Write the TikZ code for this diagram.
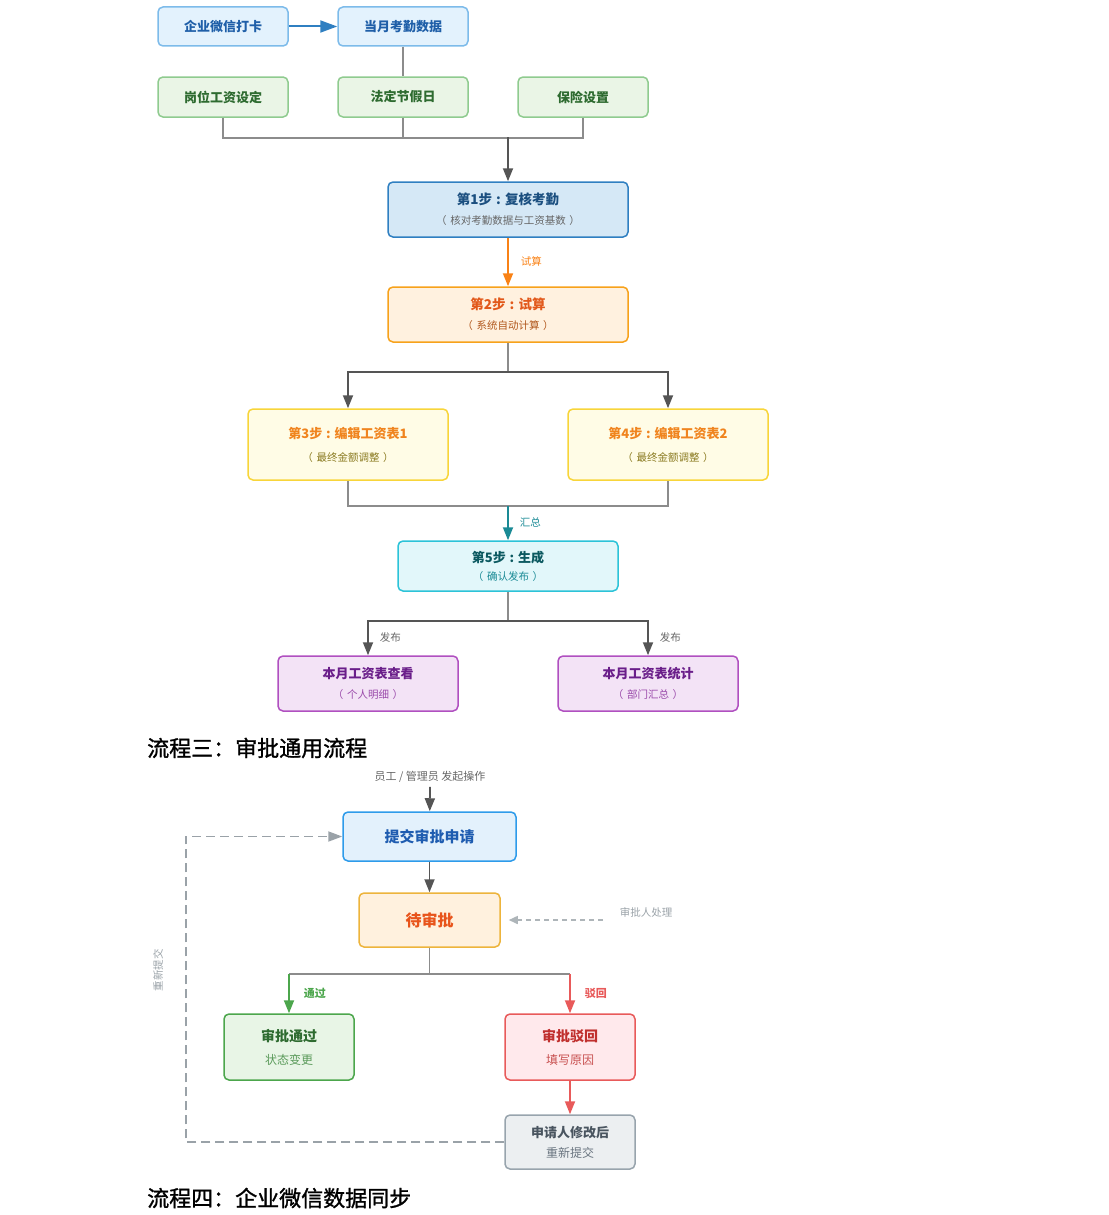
\documentclass[tikz,border=0pt]{standalone}
\usepackage{fontspec}
\setmainfont{Noto Sans CJK SC}
\newfontfamily\headfont{Noto Sans CJK SC}[FakeBold=1.2]
\usepackage{xcolor}
\usetikzlibrary{positioning}
\usetikzlibrary{arrows.meta}

\definecolor{topfill}{HTML}{E3F2FD}
\definecolor{topdraw}{HTML}{7DBBEA}
\definecolor{toptext}{HTML}{1F5FA8}
\definecolor{grnfill}{HTML}{EAF5E6}
\definecolor{grndraw}{HTML}{8FCB8F}
\definecolor{grntext}{HTML}{2E6B30}
\definecolor{sonefill}{HTML}{D5E8F6}
\definecolor{sonedraw}{HTML}{2F7FC1}
\definecolor{sonetext}{HTML}{1B4F80}
\definecolor{stwofill}{HTML}{FFF1DF}
\definecolor{stwodraw}{HTML}{F7A21B}
\definecolor{stwotext}{HTML}{E2591B}
\definecolor{stwosub}{HTML}{B0561B}
\definecolor{sedfill}{HTML}{FFFCE6}
\definecolor{seddraw}{HTML}{F8D53A}
\definecolor{sedtext}{HTML}{F0841E}
\definecolor{sedsub}{HTML}{8A7A20}
\definecolor{sfivefill}{HTML}{E2F7FA}
\definecolor{sfivedraw}{HTML}{2CC3D8}
\definecolor{sfivetext}{HTML}{0B5960}
\definecolor{sfivesub}{HTML}{1A8A95}
\definecolor{purfill}{HTML}{F3E3F6}
\definecolor{purdraw}{HTML}{B050C0}
\definecolor{purtext}{HTML}{6A1E8A}
\definecolor{pursub}{HTML}{9A4AAA}
\definecolor{subfill}{HTML}{E3F1FC}
\definecolor{subdraw}{HTML}{2E9BEA}
\definecolor{subtext}{HTML}{1E5CB0}
\definecolor{waitfill}{HTML}{FFF1DE}
\definecolor{waitdraw}{HTML}{EDB43C}
\definecolor{waittext}{HTML}{E8541B}
\definecolor{okfill}{HTML}{E8F5E6}
\definecolor{okdraw}{HTML}{4CA64C}
\definecolor{oksub}{HTML}{5A9A5A}
\definecolor{nofill}{HTML}{FFE9EC}
\definecolor{nodraw}{HTML}{E85A5A}
\definecolor{notext}{HTML}{C0302E}
\definecolor{nosub}{HTML}{C85050}
\definecolor{redofill}{HTML}{ECEFF1}
\definecolor{redodraw}{HTML}{98A4AD}
\definecolor{redotext}{HTML}{4A5560}
\definecolor{redosub}{HTML}{6A7580}
\definecolor{busgray}{HTML}{8C8C8C}
\definecolor{arrgray}{HTML}{555555}
\definecolor{loopgray}{HTML}{9AA2A8}
\definecolor{lblgray}{HTML}{666666}

\newcommand{\subline}[2]{{\fontsize{10.5}{12}\selectfont\mdseries\color{#1}（\hspace{0.35em}#2\hspace{0.35em}）}}
\newcommand{\stepcolon}{\hspace{0.3em}:\hspace{0.3em}}

\begin{document}
\begin{tikzpicture}[x=1pt,y=-1pt,
  box/.style={draw, rounded corners=5pt, line width=1.5pt, align=center, inner sep=0pt,
    font=\fontsize{13}{16}\selectfont\bfseries},
  topbox/.style={box, fill=topfill, draw=topdraw, text=toptext, minimum width=130pt, minimum height=39pt},
  setbox/.style={box, fill=grnfill, draw=grndraw, text=grntext, minimum width=130pt, minimum height=40pt},
  bus/.style={draw=busgray, line width=1.8pt},
  tip/.style={-{Triangle[length=13pt,width=10pt]}},
  arrow/.style={draw=arrgray, line width=1.8pt, tip},
  lbl/.style={font=\fontsize{10.5}{12}\selectfont, inner sep=0pt}]
\useasboundingbox (0,0) rectangle (1108,1215);

% flow 2: payroll
\node[topbox] (daka) at (223,26.5) {企业微信打卡};
\node[topbox] (kaoqin) at (403,26.5) {当月考勤数据};
\node[setbox] (gangwei) at (223,97) {岗位工资设定};
\node[setbox] (jiari) at (403,97) {法定节假日};
\node[setbox] (baoxian) at (583,97) {保险设置};
\node[box, fill=sonefill, draw=sonedraw, text=sonetext, minimum width=240pt, minimum height=55pt,
  font=\fontsize{13.5}{16}\selectfont\bfseries] (step1) at (508,209.5)
  {第1步\stepcolon 复核考勤\\[4pt]\subline{lblgray}{核对考勤数据与工资基数}};
\node[box, fill=stwofill, draw=stwodraw, text=stwotext, minimum width=240pt, minimum height=55pt,
  font=\fontsize{13.5}{16}\selectfont\bfseries] (step2) at (508,314.5)
  {第2步\stepcolon 试算\\[4pt]\subline{stwosub}{系统自动计算}};
\node[box, fill=sedfill, draw=seddraw, text=sedtext, minimum width=200pt, minimum height=71pt] (step3) at (348,444.5)
  {第3步\stepcolon 编辑工资表1\\[7pt]\subline{sedsub}{最终金额调整}};
\node[box, fill=sedfill, draw=seddraw, text=sedtext, minimum width=200pt, minimum height=71pt] (step4) at (668,444.5)
  {第4步\stepcolon 编辑工资表2\\[7pt]\subline{sedsub}{最终金额调整}};
\node[box, fill=sfivefill, draw=sfivedraw, text=sfivetext, minimum width=220pt, minimum height=50pt] (step5) at (508,566)
  {第5步\stepcolon 生成\\[2pt]\subline{sfivesub}{确认发布}};
\node[box, fill=purfill, draw=purdraw, text=purtext, minimum width=180pt, minimum height=55pt] (chakan) at (368,683.5)
  {本月工资表查看\\[4pt]\subline{pursub}{个人明细}};
\node[box, fill=purfill, draw=purdraw, text=purtext, minimum width=180pt, minimum height=55pt] (tongji) at (648,683.5)
  {本月工资表统计\\[4pt]\subline{pursub}{部门汇总}};

\coordinate (hubA) at (508,137);
\coordinate (hubB) at (508,372);
\coordinate (hubC) at (508,506);
\coordinate (hubD) at (508,621);

\draw[draw=sonedraw, line width=2pt, -{Triangle[length=17pt,width=12pt]}] (daka) -- (kaoqin);
\draw[bus] (kaoqin) -- (jiari);
\draw[bus] (gangwei.south) -- ++(0,20) -| (baoxian.south);
\draw[bus] (jiari.south) -- ++(0,20);
\draw[arrow] (hubA) -- (step1);
\draw[draw=stwodraw!80!red, line width=1.8pt, tip] (step1) --
  node[lbl, right=12pt, yshift=1pt, text=stwodraw!80!red] {试算} (step2);
\draw[bus] (step2) -- (hubB);
\draw[arrow] (hubB) -| (step3.north);
\draw[arrow] (hubB) -| (step4.north);
\draw[bus] (step3.south) |- (hubC) -| (step4.south);
\draw[draw=sfivesub, line width=1.8pt, tip] (hubC) --
  node[lbl, right=11pt, yshift=1pt, text=sfivesub] {汇总} (step5);
\draw[bus] (step5) -- (hubD);
\draw[arrow] (hubD) -| node[lbl, pos=0.75, right=11pt, yshift=1pt, text=lblgray] {发布} (chakan.north);
\draw[arrow] (hubD) -| node[lbl, pos=0.75, right=11pt, yshift=1pt, text=lblgray] {发布} (tongji.north);

% flow 3: approval
\node[anchor=west, inner sep=0pt, font=\fontsize{22}{22}\selectfont\headfont] (title3) at (147,748) {流程三：审批通用流程};
\node[lbl, font=\fontsize{11}{12}\selectfont, text=lblgray] (faqi) at (430,777) {员工 / 管理员 发起操作};
\node[box, fill=subfill, draw=subdraw, text=subtext, minimum width=173pt, minimum height=49pt,
  font=\fontsize{15}{17}\selectfont\bfseries] (tijiao) at (429.5,836.5) {提交审批申请};
\node[box, fill=waitfill, draw=waitdraw, text=waittext, minimum width=141pt, minimum height=54pt,
  font=\fontsize{16}{18}\selectfont\bfseries] (daishen) at (429.5,920) {待审批};
\node[lbl, text=loopgray] (chuli) at (646,912) {审批人处理};
\node[box, fill=okfill, draw=okdraw, text=grntext, minimum width=130pt, minimum height=66pt,
  font=\fontsize{14}{17}\selectfont\bfseries] (tongguo) at (289,1047)
  {审批通过\\[6pt]{\fontsize{12}{14}\selectfont\mdseries\color{oksub}状态变更}};
\node[box, fill=nofill, draw=nodraw, text=notext, minimum width=130pt, minimum height=66pt,
  font=\fontsize{14}{17}\selectfont\bfseries] (bohui) at (570,1047)
  {审批驳回\\[6pt]{\fontsize{12}{14}\selectfont\mdseries\color{nosub}填写原因}};
\node[box, fill=redofill, draw=redodraw, text=redotext, minimum width=130pt, minimum height=54pt,
  font=\fontsize{13}{16}\selectfont\bfseries] (xiugai) at (570,1142)
  {申请人修改后\\[4pt]{\fontsize{12}{14}\selectfont\mdseries\color{redosub}重新提交}};
\node[lbl, rotate=90, text=loopgray] (chongxin) at (158,970) {重新提交};
\node[anchor=west, inner sep=0pt, font=\fontsize{22}{22}\selectfont\headfont] (title4) at (147,1198) {流程四：企业微信数据同步};

\coordinate (hubE) at (429.5,974);
\coordinate (hubL) at (289,974);
\coordinate (hubR) at (570,974);
\coordinate (chulistart) at (603,920);
\coordinate (loopx) at (186,1000);

\draw[arrow] (faqi.south) ++(0,4) -- (tijiao);
\draw[arrow] (tijiao) -- (daishen);
\draw[draw=loopgray!80, line width=1.5pt, dash pattern=on 5pt off 4pt, -{Triangle[length=9pt,width=8pt]},
  shorten >=8pt] (chulistart) -- (daishen.east);
\draw[bus] (daishen) -- (hubE);
\draw[bus] (hubL) -- (hubR);
\draw[draw=okdraw, line width=1.8pt, tip] (hubL) --
  node[lbl, right=14pt, text=okdraw, font=\fontsize{11}{12}\selectfont\bfseries] {通过} (tongguo);
\draw[draw=nodraw, line width=1.8pt, tip] (hubR) --
  node[lbl, right=14pt, text=nodraw, font=\fontsize{11}{12}\selectfont\bfseries] {驳回} (bohui);
\draw[draw=nodraw, line width=1.8pt, tip] (bohui) -- (xiugai);
\draw[draw=loopgray, line width=1.8pt, dash pattern=on 9pt off 5pt, -{Triangle[length=14pt,width=10pt]}]
  (xiugai.west) -| (loopx) |- (tijiao.west);
\end{tikzpicture}
\end{document}
